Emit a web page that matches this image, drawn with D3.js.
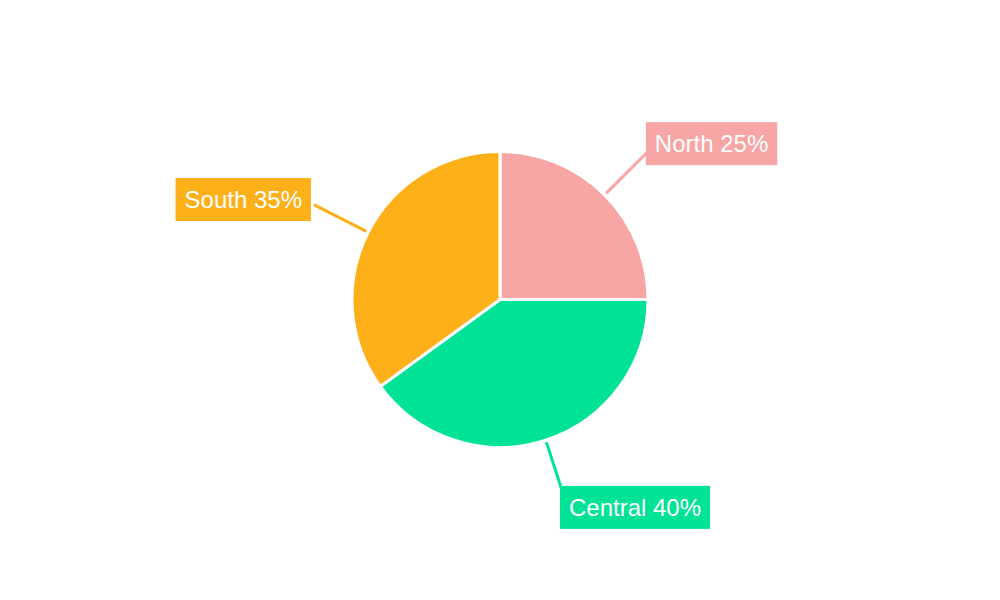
<!DOCTYPE html>
<html><head><meta charset="utf-8">
<script src="https://cdn.jsdelivr.net/npm/d3@7"></script>
<style>body{margin:0;background:#fff}svg{display:block}</style>
</head><body>
<script>
const categories = ["North", "Central", "South"];
const values = [25, 40, 35];
const colors = ["#F8A5A5", "#00E396", "#FEB019"];

const W = 1000, H = 600, cx = 500, cy = 299.5, R = 148;
const svg = d3.select("body").append("svg").attr("width", W).attr("height", H);
const g = svg.append("g").attr("transform", `translate(${cx},${cy})`);

const data = categories.map((c, i) => ({ name: c, value: values[i], color: colors[i] }));
const pie = d3.pie().value(d => d.value).sort(null);
const arcs = pie(data);
const arc = d3.arc().innerRadius(0).outerRadius(R);

g.selectAll("path.slice").data(arcs).join("path")
  .attr("class", "slice")
  .attr("d", arc)
  .attr("fill", d => d.data.color)
  .attr("stroke", "#fff").attr("stroke-width", 3).attr("stroke-linejoin", "miter");

const pt = (a, r) => [Math.sin(a) * r, -Math.cos(a) * r];

arcs.forEach(d => {
  const m = (d.startAngle + d.endAngle) / 2;
  const p0 = pt(m, 150), p1 = pt(m, 209);
  g.append("line").attr("x1", p0[0]).attr("y1", p0[1]).attr("x2", p1[0]).attr("y2", p1[1])
    .attr("stroke", d.data.color).attr("stroke-width", 3);
  const p = pt(m, 207);
  const lg = g.append("g");
  const txt = lg.append("text").text(`${d.data.name} ${d.data.value}%`)
    .attr("font-family", "'Liberation Sans', Arial, sans-serif").attr("font-size", 24)
    .attr("fill", "#fff");
  const tw = txt.node().getComputedTextLength();
  const bw = tw + 18, bh = 43;
  const right = p[0] > 0;
  const top = p[1] < 0;
  const bx = right ? p[0] - (top ? 0.5 : 4) : p[0] - 4.6 - bw;
  const by = top ? p[1] - (right ? 31 : 27.5) : p[1] - 10.5;
  lg.insert("rect", "text").attr("x", bx).attr("y", by).attr("width", bw).attr("height", bh)
    .attr("fill", d.data.color);
  txt.attr("x", bx + 9).attr("y", by + bh / 2 + 8.5);
});
</script>
</body></html>
